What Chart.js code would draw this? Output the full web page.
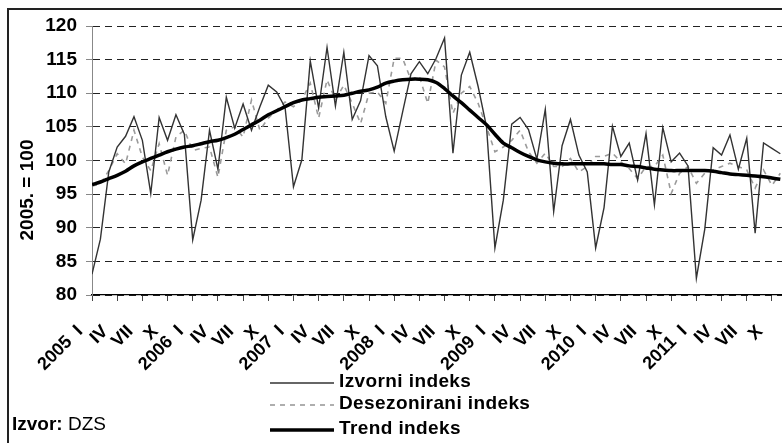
<!DOCTYPE html>
<html>
<head>
<meta charset="utf-8">
<script src="https://cdn.jsdelivr.net/npm/chart.js@4.4.0/dist/chart.umd.min.js"></script>
<style>
  html, body { margin: 0; padding: 0; background: #fff; overflow: hidden; }
  #okvir { position: absolute; left: 7px; top: 8px; width: 900px; height: 600px; border: 2px solid #222; box-sizing: border-box; }
  #wrap { position: absolute; left: 0; top: 0; width: 782px; height: 443px; }
</style>
</head>
<body>
<div id="okvir"></div>
<div id="wrap"><canvas id="grafikon" width="782" height="443"></canvas></div>
<script>
// Podaci: mjesečni indeksi 2005. = 100 (siječanj 2005. - studeni 2011.)
const godine = [2005, 2006, 2007, 2008, 2009, 2010, 2011];
const mjeseci = ['I', 'II', 'III', 'IV', 'V', 'VI', 'VII', 'VIII', 'IX', 'X', 'XI', 'XII'];

const izvorni = [
  83.1, 88.3, 98.3, 102.0, 103.6, 106.5, 103.0, 95.1, 106.4, 103.0, 106.8, 103.9,
  88.2, 94.1, 104.5, 98.7, 109.4, 104.8, 108.4, 104.5, 108.0, 111.2, 110.2, 107.9,
  96.1, 100.1, 114.8, 107.8, 116.8, 108.1, 116.1, 106.1, 108.9, 115.6, 114.1, 106.5,
  101.4, 107.2, 112.9, 114.7, 112.9, 115.2, 118.2, 101.1, 112.7, 116.1, 111.0, 105.0,
  87.0, 94.1, 105.4, 106.4, 104.6, 100.2, 107.6, 92.4, 102.2, 106.1, 100.8, 98.3,
  87.0, 93.0, 105.1, 100.6, 102.6, 97.1, 104.0, 93.4, 104.9, 99.8, 101.1, 99.2,
  82.5, 89.8, 101.9, 100.8, 103.8, 98.7, 103.3, 89.2, 102.6, 101.8, 101.0
];

const desezonirani = [
  96.2, 96.5, 98.5, 101.0, 99.5, 104.5, 100.5, 98.5, 102.5, 97.8, 103.5, 104.5,
  101.5, 101.8, 102.0, 97.5, 104.5, 105.0, 103.5, 109.0, 104.5, 106.3, 107.5, 108.7,
  108.0, 109.0, 111.5, 106.3, 112.0, 109.0, 111.2, 108.5, 105.5, 110.0, 110.2, 108.5,
  115.2, 115.2, 112.0, 112.5, 108.5, 114.9, 113.9, 107.0, 110.0, 111.0, 108.5, 105.0,
  101.3, 102.0, 103.0, 104.5, 101.3, 99.6, 101.1, 99.1, 99.1, 100.3, 98.3, 99.1,
  100.6, 100.6, 101.1, 99.8, 98.8, 97.3, 99.1, 99.1, 100.8, 95.1, 98.1, 99.1,
  96.6, 98.1, 98.6, 99.1, 99.6, 99.1, 98.6, 95.9, 98.6, 96.3, 98.1
];

const trend = [
  96.4, 96.8, 97.3, 97.8, 98.4, 99.2, 99.8, 100.3, 100.8, 101.3, 101.7, 102.0,
  102.2, 102.5, 102.8, 103.0, 103.4, 103.9, 104.6, 105.3, 106.0, 106.8, 107.4, 108.0,
  108.6, 109.0, 109.2, 109.4, 109.5, 109.6, 109.7, 110.0, 110.3, 110.5, 110.9, 111.5,
  111.8, 112.0, 112.1, 112.1, 112.0, 111.6, 110.7, 109.6, 108.6, 107.5, 106.4, 105.3,
  103.9, 102.6, 101.9, 101.2, 100.6, 100.1, 99.8, 99.6, 99.5, 99.5, 99.5, 99.5,
  99.5, 99.5, 99.4, 99.4, 99.2, 99.1, 98.9, 98.7, 98.6, 98.5, 98.5, 98.5,
  98.5, 98.5, 98.4, 98.2, 98.0, 97.9, 97.8, 97.7, 97.6, 97.4, 97.2
];

const naslovY = '2005. = 100';
const izvor = ['Izvor:', ' DZS'];

// oznake kategorija: "2005  I", "II", ... "XII", "2006  I", ...
const kategorije = [];
godine.forEach(g => mjeseci.forEach(m => kategorije.push(m === 'I' ? g + '  I' : m)));

const tocke = niz => niz.map((v, i) => ({ x: i, y: v }));
const font = "'Liberation Sans', Arial, sans-serif";
Chart.defaults.font.family = font;

// naslov osi, legenda i izvor crtaju se na platnu
const dodaci = {
  id: 'dodaci',
  afterDraw(chart) {
    const ctx = chart.ctx;
    ctx.save();
    ctx.fillStyle = '#000';
    ctx.translate(28, 190);
    ctx.rotate(-Math.PI / 2);
    ctx.font = 'bold 19px ' + font;
    ctx.textAlign = 'center';
    ctx.textBaseline = 'middle';
    ctx.fillText(naslovY, 0, 0);
    ctx.restore();

    const yLeg = [383, 405, 430];
    chart.data.datasets.forEach((ds, i) => {
      ctx.save();
      ctx.strokeStyle = ds.borderColor;
      ctx.lineWidth = ds.borderWidth;
      ctx.setLineDash(ds.borderDash || []);
      ctx.beginPath();
      ctx.moveTo(270, yLeg[i]);
      ctx.lineTo(334, yLeg[i]);
      ctx.stroke();
      ctx.restore();
      ctx.save();
      ctx.fillStyle = '#000';
      ctx.font = 'bold 19px ' + font;
      ctx.letterSpacing = '0.4px';
      ctx.textBaseline = 'middle';
      ctx.fillText(ds.label, 339, yLeg[i] - 1);
      ctx.restore();
    });

    ctx.save();
    ctx.fillStyle = '#000';
    ctx.textBaseline = 'middle';
    ctx.font = 'bold 19px ' + font;
    ctx.fillText(izvor[0], 12, 425);
    const w = ctx.measureText(izvor[0]).width;
    ctx.font = '19px ' + font;
    ctx.fillText(izvor[1], 12 + w, 425);
    ctx.restore();
  }
};

const ctx = document.getElementById('grafikon').getContext('2d');
const grafikon = new Chart(ctx, {
  type: 'line',
  data: {
    datasets: [
      { label: 'Izvorni indeks', data: tocke(izvorni), borderColor: '#333', borderWidth: 1.4, pointRadius: 0, order: 1 },
      { label: 'Desezonirani indeks', data: tocke(desezonirani), borderColor: '#9b9b9b', borderWidth: 1.6, borderDash: [5, 5], pointRadius: 0, order: 2 },
      { label: 'Trend indeks', data: tocke(trend), borderColor: '#000', borderWidth: 3.5, pointRadius: 0, tension: 0.3, order: 0 }
    ]
  },
  options: {
    responsive: false,
    animation: false,
    layout: { padding: { top: 26, left: 0, right: 0, bottom: 0 } },
    plugins: { legend: { display: false }, tooltip: { enabled: false } },
    scales: {
      x: {
        type: 'linear',
        min: 0,
        max: 82.2,
        grid: { drawOnChartArea: false, tickLength: 6, tickColor: '#444', lineWidth: 1 },
        border: { color: '#000', width: 1.2 },
        ticks: {
          stepSize: 3,
          includeBounds: false,
          autoSkip: false,
          maxRotation: 45,
          minRotation: 45,
          padding: 20,
          labelOffset: -12,
          color: '#000',
          font: { size: 18, weight: 'bold' },
          callback: v => (v % 3 === 0 ? kategorije[v] : '')
        },
        afterFit: s => { s.height = 148; s.paddingLeft = 0; s.paddingRight = 0; }
      },
      y: {
        min: 80,
        max: 120,
        ticks: { stepSize: 5, padding: 9, color: '#000', font: { size: 19, weight: 'bold' } },
        grid: { color: '#222', lineWidth: 1, tickLength: 6, tickColor: '#888', tickBorderDash: [] },
        border: { color: '#888', width: 1, dash: [7, 5] },
        afterFit: s => { s.width = 92; }
      }
    }
  },
  plugins: [dodaci]
});
</script>
</body>
</html>
